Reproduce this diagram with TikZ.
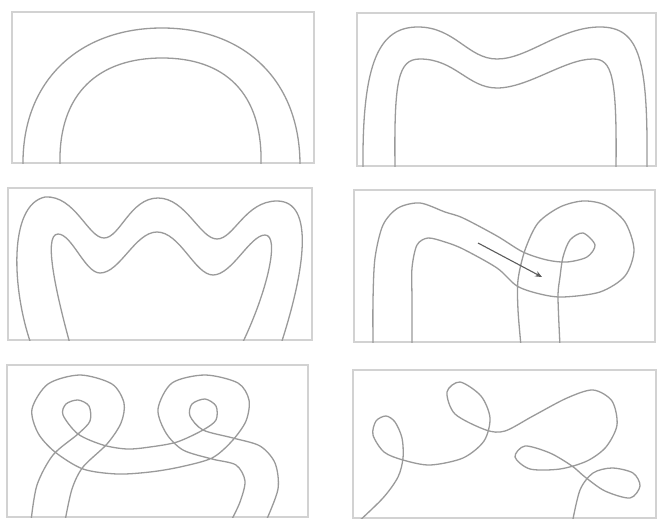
\documentclass[tikz,border=0pt]{standalone}
\usetikzlibrary{arrows.meta}
\definecolor{cmarco}{HTML}{D2D2D2}
\definecolor{ccurva}{HTML}{9A9A9A}
\definecolor{cflecha}{HTML}{5C5C5C}
\tikzset{
  marco/.style={draw=cmarco,line width=1.6pt},
  curva/.style={draw=ccurva,line width=1.3pt,line cap=round},
  flecha/.style={-{Stealth[length=2.4mm,width=2mm]},draw=cflecha,line width=1.1pt},
}
\begin{document}
\begin{tikzpicture}[x=1pt,y=-1pt]
\useasboundingbox (0,0) rectangle (658,522);
\fill[white] (0,0) rectangle (658,522);

% 1: arco simple
\draw[marco] (12,12) rectangle (314,163);
\begin{scope}
  \clip (12,12) rectangle (314,163);
  \draw[curva] (23,165) .. controls (22,80) and (80,28) .. (162,28)
                        .. controls (244,28) and (300,80) .. (300,165);
  \draw[curva] (60,165) .. controls (58,92) and (100,58) .. (162,58)
                        .. controls (224,58) and (263,92) .. (261,165);
\end{scope}

% 2: una ondulacion
\draw[marco] (357,13) rectangle (656,166);
\begin{scope}
  \clip (357,13) rectangle (656,166);
  \draw[curva] (363,168) .. controls (362,60) and (380,27) .. (418,27)
                         .. controls (455,27) and (468,59) .. (497,59)
                         .. controls (528,59) and (560,27) .. (600,27)
                         .. controls (640,27) and (648,60) .. (647,168);
  \draw[curva] (395,168) .. controls (394,80) and (398,59) .. (420,59)
                         .. controls (455,59) and (468,88) .. (497,88)
                         .. controls (528,88) and (565,59) .. (593,59)
                         .. controls (612,59) and (617,75) .. (616,168);
\end{scope}

% 3: dos ondulaciones
\draw[marco] (8,188) rectangle (312,340);
\begin{scope}
  \clip (8,188) rectangle (312,340);
  \draw[curva] (31,344) .. controls (12,290) and (8,205) .. (45,197)
                        .. controls (75,195) and (88,238) .. (104,238)
                        .. controls (120,238) and (130,198) .. (158,198)
                        .. controls (186,198) and (200,239) .. (217,239)
                        .. controls (234,239) and (245,201) .. (277,201)
                        .. controls (315,201) and (305,270) .. (281,344);
  \draw[curva] (70,344) .. controls (58,300) and (42,234) .. (58,234)
                        .. controls (72,234) and (85,273) .. (100,273)
                        .. controls (120,273) and (135,232) .. (157,232)
                        .. controls (180,232) and (195,275) .. (213,275)
                        .. controls (232,275) and (250,235) .. (265,235)
                        .. controls (280,235) and (268,290) .. (242,344);
\end{scope}

% 4: lazos con flecha
\draw[marco] (354,190) rectangle (655,342);
\begin{scope}
  \clip (354,190) rectangle (655,342);
  \draw[curva] plot[smooth] coordinates {(373,346) (373,300) (375,258) (383,225)
    (398,208) (420,203) (445,212) (463,218) (497,236) (523,252) (547,260) (567,262)
    (587,257) (595,245) (583,233) (570,240) (563,257) (560,277) (558,297) (560,346)};
  \draw[curva] plot[smooth] coordinates {(412,346) (412,300) (412,268) (417,245)
    (428,238) (445,242) (463,249) (497,268) (517,286) (540,294) (563,297) (600,292)
    (625,276) (634,250) (625,222) (605,205) (583,201) (560,207) (538,223) (525,250)
    (518,280) (518,310) (521,346)};
\end{scope}
\coordinate (fini) at (478,243);
\coordinate (ffin) at (542,277);
\draw[flecha] (fini) -- (ffin);

% 5: dos motivos de lazos
\draw[marco] (7,365) rectangle (308,517);
\begin{scope}
  \clip (7,365) rectangle (308,517);
  \draw[curva] plot[smooth] coordinates {(31,521) (37,485) (53,455) (78,434) (90,421)
    (89,406) (78,400) (66,404) (63,415) (78,434) (103,445) (127,449) (150,447)
    (177,442) (203,430) (216,420) (216,406) (205,399) (192,404) (190,416) (203,430)
    (233,438) (260,446) (275,463) (278,489) (266,521)};
  \draw[curva] plot[smooth] coordinates {(65,521) (72,489) (83,467) (107,444)
    (121,423) (124,403) (112,384) (80,375) (48,384) (32,409) (38,433) (55,452)
    (83,469) (117,474) (150,472) (180,467) (212,458) (232,441) (246,421) (249,400)
    (238,383) (205,375) (172,383) (158,409) (166,433) (183,450) (212,459) (236,465)
    (245,481) (240,502) (231,521)};
\end{scope}

% 6: una sola curva
\draw[marco] (353,370) rectangle (656,518);
\begin{scope}
  \clip (353,370) rectangle (656,518);
  \draw[curva] plot[smooth] coordinates {(356,524) (383,498) (398,477) (403,458)
    (402,438) (395,422) (386,416) (376,421) (373,435) (384,452) (403,460) (430,465)
    (463,458) (484,441) (490,418) (481,396) (460,382) (447,392) (455,414) (486,430)
    (505,431) (533,416) (567,398) (593,390) (612,401) (617,425) (606,447) (587,461)
    (560,469) (530,469) (515,457) (525,446) (550,453) (572,466) (585,477) (605,491)
    (630,498) (640,486) (633,473) (612,468) (593,473) (580,490) (572,524)};
\end{scope}

\end{tikzpicture}
\end{document}
